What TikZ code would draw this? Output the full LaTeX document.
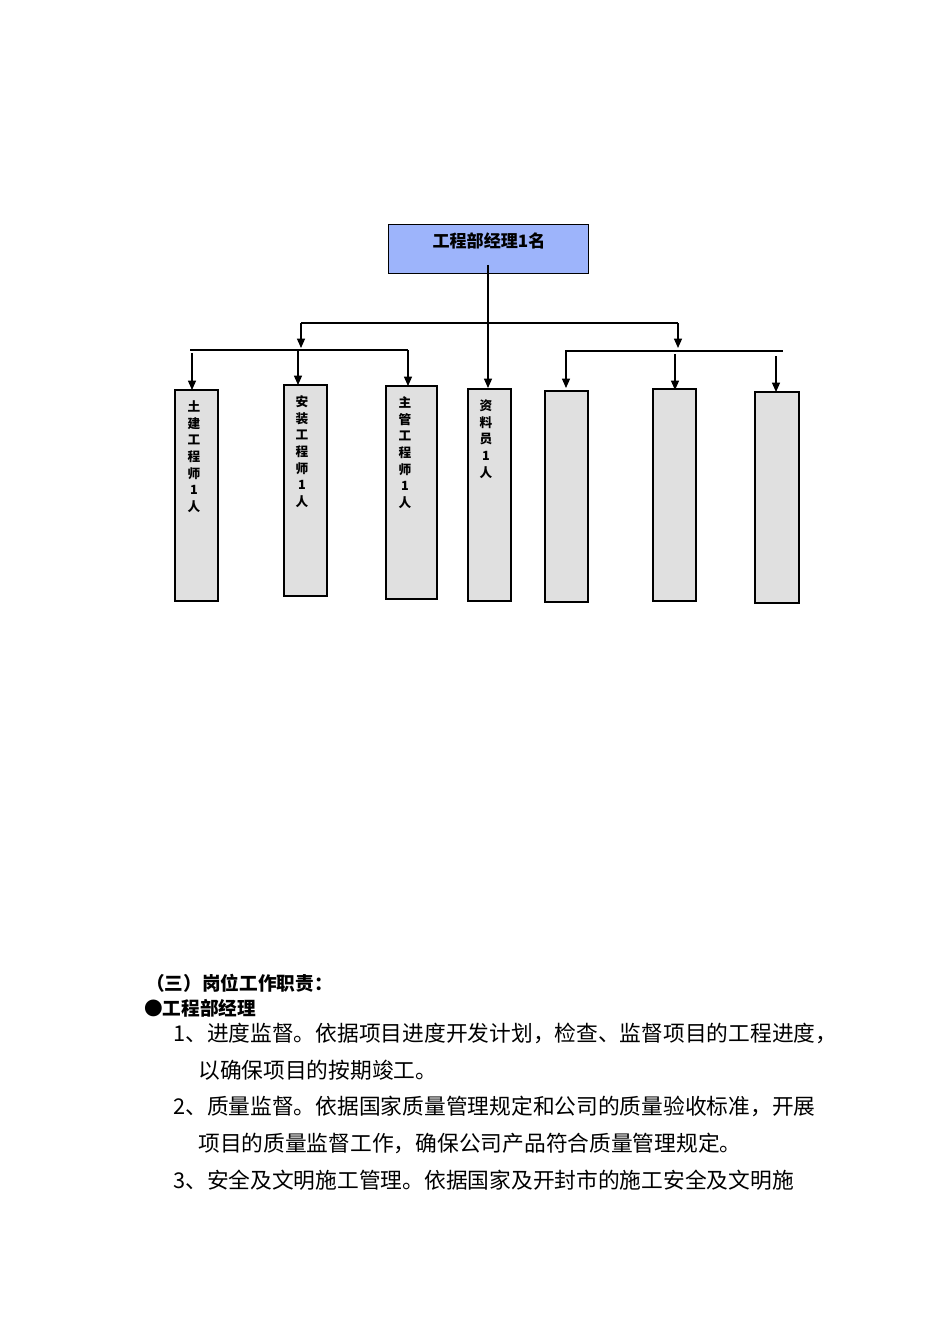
\documentclass[tikz,border=0pt]{standalone}
\usepackage{fontspec}
\newfontfamily\cjk{Noto Sans CJK SC}
\usetikzlibrary{arrows.meta}
\definecolor{topblue}{HTML}{9DB4FB}
\definecolor{boxgray}{HTML}{E0E0E0}
\begin{document}
\begin{tikzpicture}[x=0.75pt,y=-0.75pt,
  conn/.style={draw=black,line width=0.9pt},
  arr/.style={conn,-{Triangle[length=7pt,width=6pt]}},
  post/.style={draw=black,line width=0.9pt,fill=boxgray},
  vlab/.style={font=\cjk\fontsize{9.5}{12.5}\selectfont\bfseries,align=center,anchor=north},
  body/.style={font=\cjk\fontsize{16.3}{19}\selectfont,anchor=west,inner sep=0pt}]
\useasboundingbox (0,0) rectangle (950,1344);
\node[draw=black,line width=0.9pt,fill=topblue,minimum width=150pt,minimum height=36.75pt,anchor=north west,inner sep=0pt] (top) at (388,224) {};
\node[font=\cjk\fontsize{12.8}{15}\selectfont\bfseries] (toplab) at (489,241) {工程部经理1名};
\foreach \n/\a/\b/\c/\d in {b1/175/390/218/601, b2/284/385/327/596, b3/386/386/437/599, b4/468/389/511/601, b5/545/391/588/602, b6/653/389/696/601, b7/755/392/799/603}{
  \path[post] (\a,\b) rectangle (\c,\d);
  \coordinate (\n) at ({(\a+\c)/2},\b);
}
\node[vlab] (l1) at (194,396) {土\\建\\工\\程\\师\\1\\人};
\node[vlab] (l2) at (302,391) {安\\装\\工\\程\\师\\1\\人};
\node[vlab] (l3) at (405,392) {主\\管\\工\\程\\师\\1\\人};
\node[vlab] (l4) at (486,395) {资\\料\\员\\1\\人};
\coordinate (hL) at (301,323); \coordinate (hR) at (678,323);
\coordinate (mid) at (488,265);
\draw[arr] (mid) -- (488,388);
\draw[conn] (hL) -- (hR);
\draw[arr] (hL) -- (301,348);
\draw[arr] (hR) -- (678,348);
\draw[conn] (190,350) -- (408,350);
\draw[conn] (565,351) -- (783,351);
\draw[arr] (192,353) -- (192,390);
\draw[arr] (298,350) -- (298,385);
\draw[arr] (408,350) -- (408,386);
\draw[arr] (566,351) -- (566,388);
\draw[arr] (675,354) -- (675,390);
\draw[arr] (776,356) -- (776,392);
\node[font=\cjk\fontsize{14}{16}\selectfont\bfseries,anchor=west,inner sep=0pt] (h1) at (146,983) {（三）岗位工作职责：};
\node[font=\cjk\fontsize{14}{16}\selectfont\bfseries,anchor=west,inner sep=0pt] (h2) at (144,1008) {●工程部经理};
\node[body] (t1) at (173,1033) {1、进度监督。依据项目进度开发计划，检查、监督项目的工程进度，};
\node[body] (t2) at (198,1070) {以确保项目的按期竣工。};
\node[body] (t3) at (173,1106) {2、质量监督。依据国家质量管理规定和公司的质量验收标准，开展};
\node[body] (t4) at (198,1143) {项目的质量监督工作，确保公司产品符合质量管理规定。};
\node[body] (t5) at (173,1180) {3、安全及文明施工管理。依据国家及开封市的施工安全及文明施};
\end{tikzpicture}
\end{document}
